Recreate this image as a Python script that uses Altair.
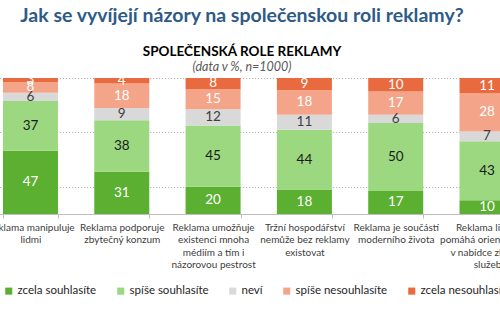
import altair as alt
import pandas as pd

statements = [
    "Reklama manipuluje|lidmi",
    "Reklama podporuje|zbytečný konzum",
    "Reklama umožňuje|existenci mnoha|médiím a tím i|názorovou pestrost",
    "Tržní hospodářství|nemůže bez reklamy|existovat",
    "Reklama je součástí|moderního života",
    "Reklama lidem|pomáhá orientovat se|v nabídce zboží a|služeb",
]
answers = ["zcela souhlasíte", "spíše souhlasíte", "neví", "spíše nesouhlasíte", "zcela nesouhlasíte"]
zcela_souhlasite = [47, 31, 20, 18, 17, 10]
spise_souhlasite = [37, 38, 45, 44, 50, 43]
nevi = [6, 9, 12, 11, 6, 7]
spise_nesouhlasite = [8, 18, 15, 18, 17, 28]
zcela_nesouhlasite = [3, 4, 8, 9, 10, 11]

bar_colors = ["#5BAF31", "#9BD87F", "#D9D9D9", "#F4A488", "#EA6A3F"]
text_colors = ["#FFFFFF", "#1A1A1A", "#404040", "#FFFFFF", "#FFFFFF"]

series = [zcela_souhlasite, spise_souhlasite, nevi, spise_nesouhlasite, zcela_nesouhlasite]
rows = []
for j, (ans, vals) in enumerate(zip(answers, series)):
    for i, st in enumerate(statements):
        rows.append({"statement": st, "answer": ans, "order": j, "value": vals[i]})
df = pd.DataFrame(rows)

FONT = "Lato"

xscale = alt.Scale(domain=statements, range=[-15.3, 532.8], paddingInner=0.3976, paddingOuter=0.2)

base = alt.Chart(df).transform_stack(
    stack="value", groupby=["statement"], sort=[alt.SortField("order")], as_=["y0", "y1"], offset="normalize"
).transform_calculate(mid="(datum.y0 + datum.y1) / 2")

bars = base.mark_bar().encode(
    x=alt.X("statement:N", scale=xscale, sort=statements,
            axis=alt.Axis(title=None, labelExpr="split(datum.label, '|')", labelAngle=0,
                          labelFont=FONT, labelFontSize=10, labelColor="#404040",
                          labelLineHeight=12.5, labelPadding=4, labelOverlap=False,
                          tickBand="extent", tickSize=4, tickColor="#BFBFBF",
                          domainColor="#BFBFBF", grid=False)),
    y=alt.Y("y0:Q", scale=alt.Scale(domain=[0, 1]),
            axis=alt.Axis(title=None, labels=False, ticks=False, domain=False,
                          values=[0.2, 0.4, 0.6, 0.8, 1.0],
                          grid=True, gridColor="#A6A6A6", gridDash=[1, 2], gridWidth=1)),
    y2="y1:Q",
    color=alt.Color("answer:N", scale=alt.Scale(domain=answers, range=bar_colors), sort=answers,
                    legend=alt.Legend(title=None, orient="none", legendX=3, legendY=207,
                                      direction="horizontal", symbolType="square", symbolSize=50,
                                      symbolStrokeWidth=0, labelFont=FONT, labelFontSize=11.5,
                                      labelColor="#262626", columnPadding=18, labelOffset=3,
                                      labelLimit=200)),
)

labels = base.mark_text(font=FONT, fontSize=13.5).encode(
    x=alt.X("statement:N", scale=xscale, sort=statements),
    y=alt.Y("mid:Q"),
    text=alt.Text("value:Q"),
    color=alt.Color("answer:N", scale=alt.Scale(domain=answers, range=text_colors), legend=None),
)

def text_layer(txt, y, size, weight="normal", style="normal", color="#000000"):
    return alt.Chart(pd.DataFrame({"t": [txt]})).mark_text(
        font=FONT, fontSize=size, fontWeight=weight, fontStyle=style, color=color,
        align="center", baseline="alphabetic"
    ).encode(x=alt.value(242), y=alt.value(y), text="t:N")

title = text_layer("Jak se vyvíjejí názory na společenskou roli reklamy?", -56, 19.5, "bold", color="#2E5A87")
sub1 = text_layer("SPOLEČENSKÁ ROLE REKLAMY", -22, 13.5, "bold", color="#000000")
sub2 = text_layer("(data v %, n=1000)", -7, 12.5, style="italic", color="#595959")

chart = alt.layer(bars, labels, title, sub1, sub2).resolve_scale(color="independent").properties(
    width=500, height=136,
    autosize=alt.AutoSizeParams(type="none"),
    padding={"left": 0, "top": 78, "right": 0, "bottom": 120},
).configure_view(stroke=None)

chart.save("out.html", embed_options={"renderer": "svg", "actions": False})
